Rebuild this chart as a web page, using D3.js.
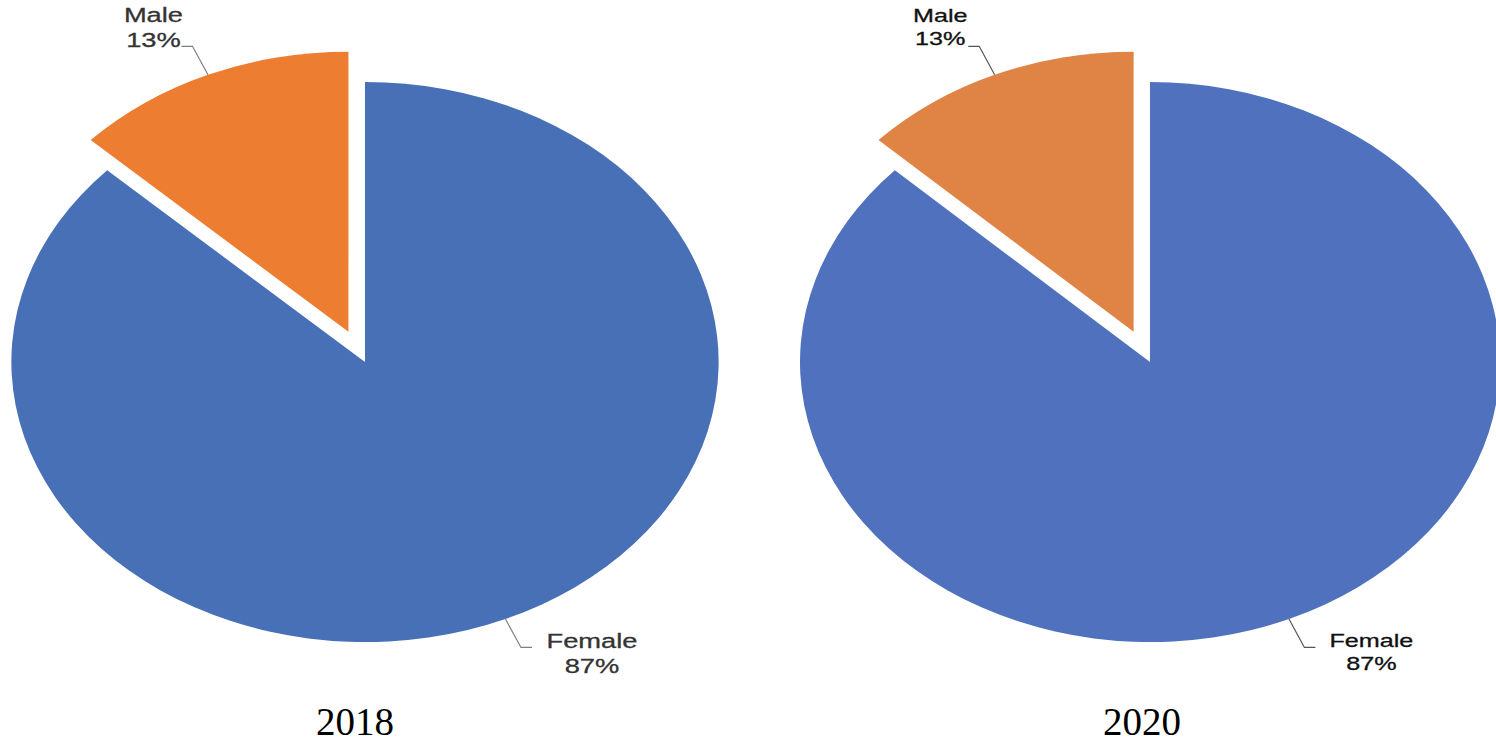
<!DOCTYPE html>
<html>
<head>
<meta charset="utf-8">
<script src="https://cdn.jsdelivr.net/npm/d3@7"></script>
<style>
  body { margin: 0; background: #fff; }
  svg { display: block; }
</style>
</head>
<body>
<svg width="1496" height="745"></svg>
<script>
// data
const categories = ["Female", "Male"];
const years = ["2018", "2020"];
const values2018 = [87, 13];
const values2020 = [87, 13];

// layout for each of the two pies (they are stretched sideways like the original)
const charts = [
    { year: years[0], values: values2018, cx: 365, cy: 362, sx: 1.263,
      colors: ["#4870B7", "#ED7D31"], font: 21, textSx: 1.3, lineH: 25,
      textColor: "#333", lineColor: "#7f7f7f", yearX: 355,
      labelOff: { Female: [60, 1], Male: [-28, -24] } },
    { year: years[1], values: values2020, cx: 1150, cy: 362, sx: 1.25,
      colors: ["#5071BE", "#DF8445"], font: 18.5, textSx: 1.36, lineH: 23,
      textColor: "#111", lineColor: "#555", yearX: 1142,
      labelOff: { Female: [56, 0], Male: [-28, -24] } }
];

const R = 280;       // radius before stretching
const explode = 33;  // how far the Male slice is pulled out
const elbowR = 311;  // leader line bend
const hLen = 11;     // horizontal part of leader, screen px

const svg = d3.select("svg");

const pie = d3.pie().sort(null).value(d => d.value);
const arc = d3.arc().innerRadius(0).outerRadius(R);

charts.forEach(c => {
    const data = categories.map((k, i) => ({ name: k, value: c.values[i] }));
    const color = d3.scaleOrdinal().domain(categories).range(c.colors);
    const arcs = pie(data);
    const total = d3.sum(c.values);

    const g = svg.append("g").attr("transform", `translate(${c.cx},${c.cy})`);
    const pg = g.append("g").attr("transform", `scale(${c.sx},1)`);

    function shift(d) {
        if (d.data.name !== "Male") return [0, 0];
        const a = (d.startAngle + d.endAngle) / 2;
        return [Math.sin(a) * explode, -Math.cos(a) * explode];
    }

    pg.selectAll("path.slice").data(arcs).enter().append("path")
        .attr("class", "slice")
        .attr("d", arc)
        .attr("transform", d => `translate(${shift(d)})`)
        .attr("fill", d => color(d.data.name));

    // leader lines + labels, in screen space
    arcs.forEach(d => {
        const a = (d.startAngle + d.endAngle) / 2;
        const [ox, oy] = shift(d);
        const toScreen = (r) => [(Math.sin(a) * r + ox) * c.sx, -Math.cos(a) * r + oy];
        const p0 = toScreen(R);
        const p1 = toScreen(elbowR);
        const dir = Math.sin(a) < 0 ? -1 : 1;
        const p2 = [p1[0] + dir * hLen, p1[1]];

        g.append("path")
            .attr("d", d3.line()([p0, p1, p2]))
            .attr("fill", "none")
            .attr("stroke", c.lineColor)
            .attr("stroke-width", 1.2);

        const off = c.labelOff[d.data.name];
        const t = g.append("text")
            .attr("transform", `translate(${p2[0] + off[0]},${p2[1] + off[1]}) scale(${c.textSx},1)`)
            .attr("text-anchor", "middle")
            .attr("font-family", "Liberation Sans, Arial, sans-serif")
            .attr("font-size", c.font)
            .attr("fill", c.textColor)
            .attr("stroke", c.textColor)
            .attr("stroke-width", 0.3);
        t.append("tspan").attr("x", 0).attr("y", 0).text(d.data.name);
        t.append("tspan").attr("x", 0).attr("y", c.lineH)
            .text(Math.round(d.data.value / total * 100) + "%");
    });

    svg.append("text")
        .attr("x", c.yearX)
        .attr("y", 735)
        .attr("text-anchor", "middle")
        .attr("font-family", "Liberation Serif, DejaVu Serif, serif")
        .attr("font-size", 39)
        .attr("fill", "#000")
        .text(c.year);
});
</script>
</body>
</html>
